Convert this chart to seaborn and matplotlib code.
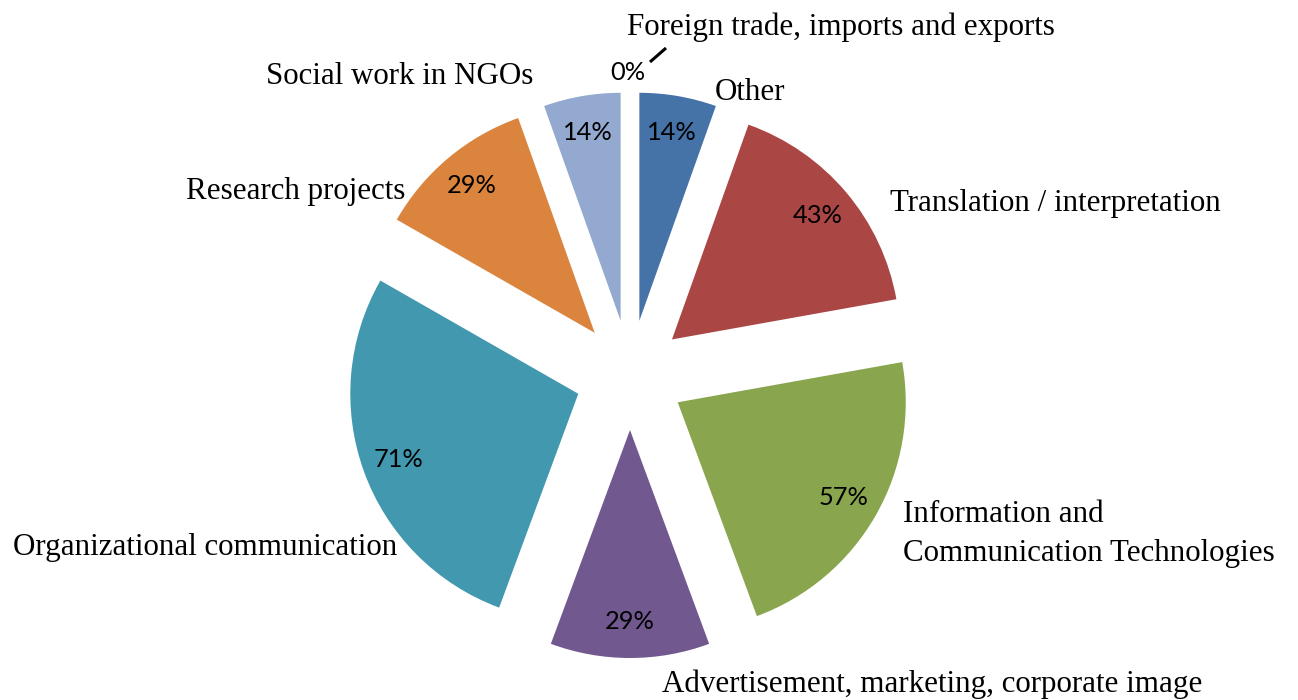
import numpy as np
import matplotlib
matplotlib.use("Agg")
import matplotlib.pyplot as plt
import seaborn as sns

# --- data (clockwise from 12 o'clock) ---
categories = ["Other", "Translation / interpretation",
              "Information and\nCommunication Technologies",
              "Advertisement, marketing, corporate image",
              "Organizational communication", "Research projects",
              "Social work in NGOs", "Foreign trade, imports and exports"]
values = [14, 43, 57, 29, 71, 29, 14, 0]
pct_labels = [f"{v}%" for v in values]
colors = ["#4573A7", "#AA4644", "#89A54E", "#71588F",
          "#4198AF", "#DB843D", "#93A9CF", "#B9CDE5"]

sns.set_theme(style="white")
plt.rcParams["font.family"] = ["Lato", "DejaVu Sans"]

W, H = 1298, 700
fig = plt.figure(figsize=(W / 100, H / 100), dpi=100)
ax = fig.add_axes([0, 0, 1, 1])

# pie geometry in pixel units (explode is absolute, not radius-relative)
cx, cy, r = 630, H - 375, 228
expl = 55

wedges, texts = ax.pie(values, labels=pct_labels, colors=colors,
                       startangle=90, counterclock=False,
                       explode=[expl] * len(values), radius=r,
                       center=(cx, cy), labeldistance=0.84,
                       wedgeprops=dict(linewidth=0),
                       textprops=dict(fontsize=18.3, color="black"))
for t in texts:
    t.set_ha("center")
    t.set_va("center")

# the empty slice: label pushed above the pie with a short leader
t0 = texts[-1]
t0.set_position((cx - 2, H - 72))
ax.plot([650, 666], [H - 62, H - 48], color="black", lw=2.2,
        solid_capstyle="butt")

# category labels (Excel-style placement)
label_pos = [(715, 93, "left"), (890, 204, "left"), (903, 534, "left"),
             (932, 684, "center"), (397, 547, "right"), (405, 192, "right"),
             (533, 76, "right"), (627, 27, "left")]
for name, (x, y, ha) in zip(categories, label_pos):
    ax.text(x, H - y, name, ha=ha, va="center", fontsize=22.3,
            family=["Liberation Serif", "DejaVu Serif"], color="black",
            linespacing=1.48)

ax.set_xlim(0, W)
ax.set_ylim(0, H)
ax.set_aspect("equal")
ax.axis("off")

fig.savefig("out.png", dpi=100)
